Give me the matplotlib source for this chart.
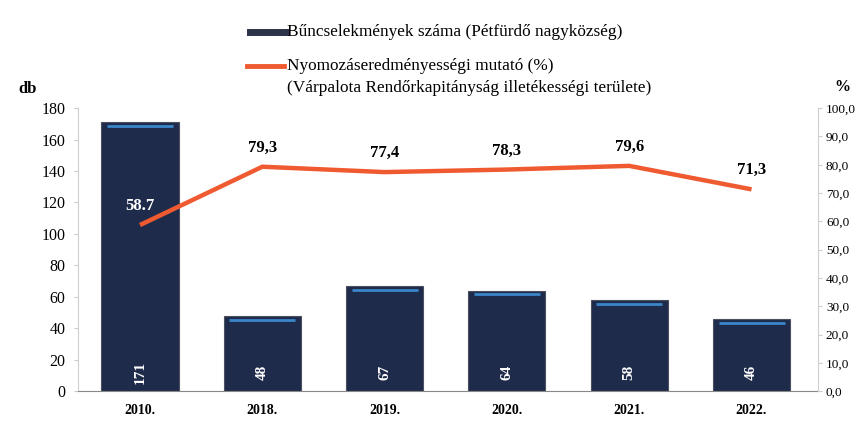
import matplotlib.pyplot as plt
from matplotlib.lines import Line2D

plt.rcParams['font.family'] = ['Liberation Serif', 'DejaVu Serif']

years = ["2010.", "2018.", "2019.", "2020.", "2021.", "2022."]
crimes = [171, 48, 67, 64, 58, 46]
rate = [58.7, 79.3, 77.4, 78.3, 79.6, 71.3]
rate_labels = ["58.7", "79,3", "77,4", "78,3", "79,6", "71,3"]

bar_color = "#1f2b4b"
line_color = "#f05a30"

fig = plt.figure(figsize=(8.57, 4.45), dpi=100)
ax = fig.add_axes([0.091, 0.121, 0.863, 0.636])
x = list(range(len(years)))

# bars
ax.bar(x, crimes, width=0.63, color=bar_color, edgecolor="#4a5060", linewidth=0.8, zorder=2)
ax.hlines([c - 2.5 for c in crimes], [i - 0.27 for i in x], [i + 0.27 for i in x],
          colors="#3b86c8", linewidth=2, zorder=3)
for i, c in zip(x, crimes):
    ax.text(i, 12, str(c), rotation=90, ha="center", va="center", color="white",
            fontsize=11, fontweight="bold", zorder=4)

ax.set_xlim(-0.507, 5.54)
ax.set_ylim(0, 180)
ax.set_yticks(range(0, 181, 20))
ax.set_xticks(x)
ax.set_xticklabels(years, fontsize=10, fontweight="bold")
ax.tick_params(axis="x", length=0, pad=9)
ax.tick_params(axis="y", length=3, color="#cccccc", labelsize=11.5, pad=6)
for s in ["top", "right"]:
    ax.spines[s].set_visible(False)
ax.spines["left"].set_color("#d0d0d0")
ax.spines["bottom"].set_color("#888888")

# line on secondary axis
ax2 = ax.twinx()
ax2.plot(x, rate, color=line_color, linewidth=3.2, solid_capstyle="butt", zorder=5)
ax2.set_ylim(0, 100)
ax2.set_yticks(range(0, 101, 10))
ax2.set_yticklabels([f"{v},0" for v in range(0, 101, 10)], fontsize=9.5)
ax2.tick_params(axis="y", length=3, color="#cccccc", pad=3)
for s in ["top", "left", "bottom"]:
    ax2.spines[s].set_visible(False)
ax2.spines["right"].set_color("#d0d0d0")
for i, (v, lab) in enumerate(zip(rate, rate_labels)):
    col = "white" if i == 0 else "black"
    ax2.annotate(lab, (i, v), xytext=(0, 8), textcoords="offset points",
                 ha="center", va="bottom", fontsize=12, fontweight="bold", color=col, zorder=6)

# axis unit labels
fig.text(0.022, 0.80, "db", fontsize=12, fontweight="bold", ha="left", va="center")
fig.text(0.992, 0.805, "%", fontsize=11.5, fontweight="bold", ha="right", va="center")

# legend
fig.add_artist(Line2D([0.292, 0.334], [0.928, 0.928], color="#2b3448", linewidth=5))
fig.text(0.335, 0.928, "Bűncselekmények száma (Pétfürdő nagyközség)", fontsize=12.4, va="center")
fig.add_artist(Line2D([0.288, 0.331], [0.852, 0.852], color=line_color, linewidth=3.5))
fig.text(0.335, 0.852, "Nyomozáseredményességi mutató (%)", fontsize=12.4, va="center")
fig.text(0.335, 0.802, "(Várpalota Rendőrkapitányság illetékességi területe)", fontsize=12.4, va="center")

fig.savefig("out.png", dpi=100)
